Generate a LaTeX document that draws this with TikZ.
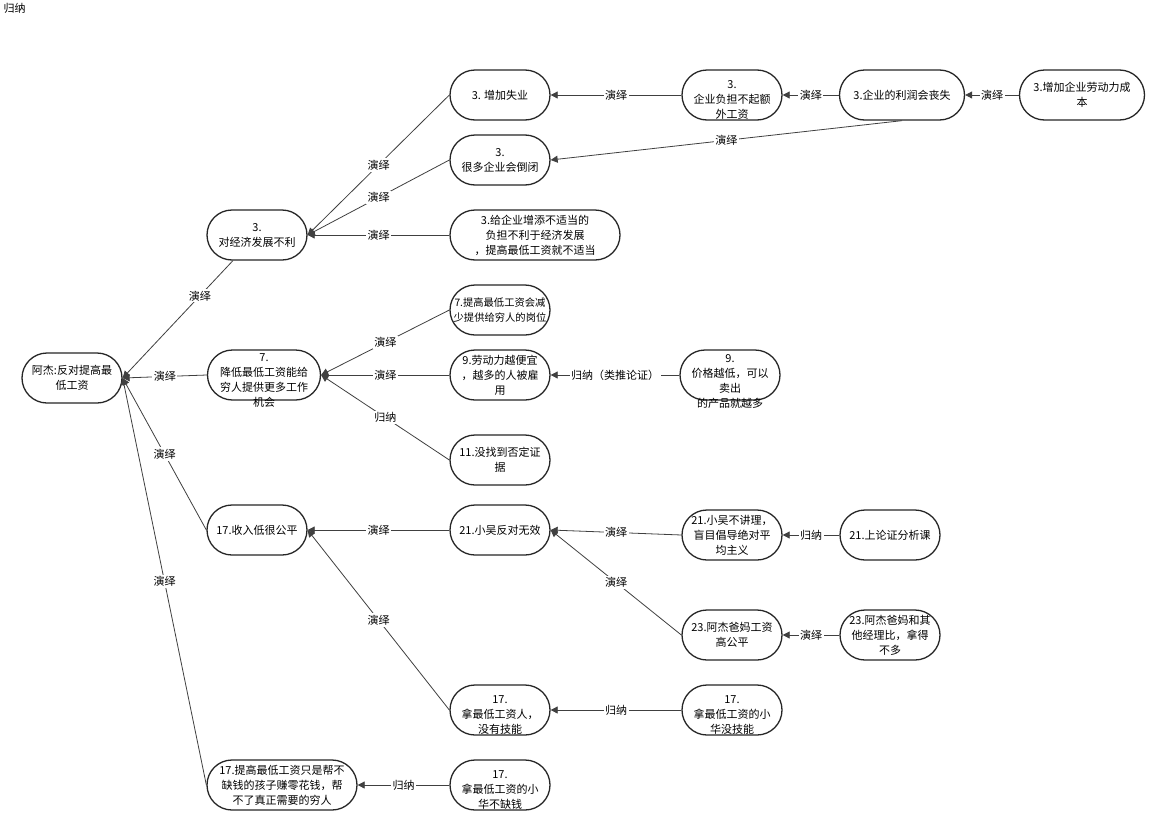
\documentclass[tikz,border=0pt]{standalone}
\usepackage{fontspec}
\setmainfont{Noto Sans CJK SC}
\usetikzlibrary{shapes.misc, arrows.meta, positioning}
\tikzset{
  claimbox/.style={rounded rectangle, draw=black!85, line width=1.3pt, fill=white, minimum width=100pt, minimum height=50pt, inner sep=0pt},
  boxtext/.style={align=center, inner sep=0pt, font=\fontsize{11}{15}\selectfont},
  lowtext/.style={boxtext, yshift=-6pt},
  link/.style={draw=black!75, line width=0.8pt, -{Triangle[length=7pt, width=7pt]}},
  linklabel/.style={fill=white, inner sep=1.5pt, font=\fontsize{11}{13}\selectfont}
}
\begin{document}
\begin{tikzpicture}[x=1pt, y=-1pt]
  \path[use as bounding box, fill=white] (0,0) rectangle (1165,830);
  \node[anchor=west, font=\fontsize{11}{13}\selectfont] (title) at (0,8) {归纳};

  % Root claim and its four reasons
  \node[claimbox, label={[boxtext]center:{阿杰:反对提高最\\低工资}}] (root) at (72,378) {};
  \node[claimbox, label={[boxtext]center:{3.\\对经济发展不利}}] (n3) at (257,235) {};
  \node[claimbox, minimum width=113pt, label={[lowtext]center:{7.\\降低最低工资能给\\穷人提供更多工作\\机会}}] (n7) at (264,375) {};
  \node[claimbox, label={[boxtext]center:{17.收入低很公平}}] (n17) at (257,530) {};
  \node[claimbox, minimum width=150pt, label={[boxtext]center:{17.提高最低工资只是帮不\\缺钱的孩子赚零花钱，帮\\不了真正需要的穷人}}] (n17b) at (282,785) {};

  % Second column
  \node[claimbox, label={[boxtext]center:{3. 增加失业}}] (a1) at (500,95) {};
  \node[claimbox, label={[boxtext]center:{3.\\很多企业会倒闭}}] (a2) at (500,160) {};
  \node[claimbox, minimum width=170pt, label={[boxtext]center:{3.给企业增添不适当的\\负担不利于经济发展\\，提高最低工资就不适当}}] (a3) at (535,235) {};
  \node[claimbox, label={[boxtext, font=\fontsize{10.3}{15}\selectfont]center:{7.提高最低工资会减\\少提供给穷人的岗位}}] (b1) at (500,310) {};
  \node[claimbox, label={[boxtext]center:{9.劳动力越便宜\\，越多的人被雇\\用}}] (b2) at (500,375) {};
  \node[claimbox, label={[boxtext]center:{11.没找到否定证\\据}}] (b3) at (500,460) {};
  \node[claimbox, label={[boxtext]center:{21.小吴反对无效}}] (c1) at (500,530) {};
  \node[claimbox, label={[lowtext, yshift=1pt]center:{17.\\拿最低工资人，\\没有技能}}] (c2) at (500,710) {};
  \node[claimbox, label={[lowtext, yshift=1pt]center:{17.\\拿最低工资的小\\华不缺钱}}] (c3) at (500,785) {};

  % Third column
  \node[claimbox, label={[lowtext, yshift=1pt]center:{3.\\企业负担不起额\\外工资}}] (d1) at (732,95) {};
  \node[claimbox, label={[lowtext]center:{9.\\价格越低，可以\\卖出\\的产品就越多}}] (d2) at (730,375) {};
  \node[claimbox, label={[boxtext]center:{21.小吴不讲理，\\盲目倡导绝对平\\均主义}}] (d3) at (732,535) {};
  \node[claimbox, label={[boxtext]center:{23.阿杰爸妈工资\\高公平}}] (d4) at (732,635) {};
  \node[claimbox, label={[lowtext, yshift=1pt]center:{17.\\拿最低工资的小\\华没技能}}] (d5) at (732,710) {};

  % Outer column
  \node[claimbox, minimum width=125pt, label={[boxtext]center:{3.企业的利润会丧失}}] (e1) at (902,95) {};
  \node[claimbox, minimum width=125pt, label={[boxtext]center:{3.增加企业劳动力成\\本}}] (e2) at (1082,95) {};
  \node[claimbox, label={[boxtext]center:{21.上论证分析课}}] (e3) at (890,535) {};
  \node[claimbox, label={[boxtext]center:{23.阿杰爸妈和其\\他经理比，拿得\\不多}}] (e4) at (890,635) {};

  % Links into the root
  \draw[link] (n3) -- node[linklabel, pos=0.3] {演绎} (root.east);
  \foreach \src in {n7, n17, n17b}
    \draw[link] (\src.west) -- node[linklabel] {演绎} (root.east);

  % Links between side claims
  \foreach \src/\dst/\how in {a1/n3/演绎, a2/n3/演绎, a3/n3/演绎,
      d1/a1/演绎, e1/d1/演绎, e2/e1/演绎,
      b1/n7/演绎, b2/n7/演绎, b3/n7/归纳, d2/b2/归纳（类推论证）,
      c1/n17/演绎, c2/n17/演绎, d3/c1/演绎, d4/c1/演绎,
      e3/d3/归纳, e4/d4/演绎, d5/c2/归纳, c3/n17b/归纳}
    \draw[link] (\src.west) -- node[linklabel] {\how} (\dst.east);
  \draw[link] (e1.south) -- node[linklabel] {演绎} (a2.east);
\end{tikzpicture}
\end{document}
